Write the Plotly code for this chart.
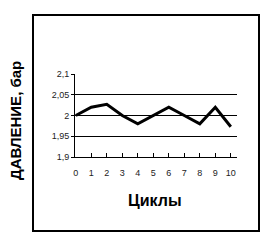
import plotly.graph_objects as go

cycles = [0, 1, 2, 3, 4, 5, 6, 7, 8, 9, 10]
pressure = [2.0, 2.02, 2.027, 2.0, 1.98, 2.0, 2.02, 2.0, 1.98, 2.02, 1.973]
y_ticks = [1.9, 1.95, 2.0, 2.05, 2.1]
y_tick_labels = ["1,9", "1,95", "2", "2,05", "2,1"]

W, H = 269, 251
L, R, T, B = 75, 32, 74, 94
pw, ph = W - L - R, H - T - B

def px(x):
    return (x - L) / pw

def py(y):
    return (H - B - y) / ph

fig = go.Figure()
fig.add_trace(go.Scatter(x=cycles, y=pressure, mode="lines",
                         line=dict(color="black", width=3), showlegend=False))

fig.update_layout(
    width=W, height=H,
    margin=dict(l=L, r=R, t=T, b=B),
    paper_bgcolor="white", plot_bgcolor="white",
    font=dict(family="Liberation Sans, Arial, sans-serif", color="black"),
    xaxis=dict(range=[-0.05, 10.4], tickvals=cycles, ticks="inside", ticklen=4,
               tickcolor="black", showgrid=False, zeroline=False,
               showline=True, linecolor="black", linewidth=1,
               tickfont=dict(size=9, color="#222"), ticklabelstandoff=7),
    yaxis=dict(range=[1.9, 2.1], tickvals=y_ticks, ticktext=y_tick_labels,
               ticks="outside", ticklen=3, tickcolor="black",
               showgrid=True, gridcolor="black", gridwidth=1, zeroline=False,
               showline=True, linecolor="black", linewidth=1,
               tickfont=dict(size=9, color="#222")),
    shapes=[dict(type="rect", xref="paper", yref="paper",
                 x0=px(33), x1=px(259), y0=py(231), y1=py(15),
                 line=dict(color="black", width=2))],
    annotations=[
        dict(text="<b>ДАВЛЕНИЕ, бар</b>", xref="paper", yref="paper",
             x=px(15), y=py(121), textangle=-90, showarrow=False,
             font=dict(size=15), xanchor="center", yanchor="middle"),
        dict(text="<b>Циклы</b>", xref="paper", yref="paper",
             x=px(155), y=py(200), showarrow=False,
             font=dict(size=16), xanchor="center", yanchor="middle"),
    ],
)

fig.write_html("out.html")
